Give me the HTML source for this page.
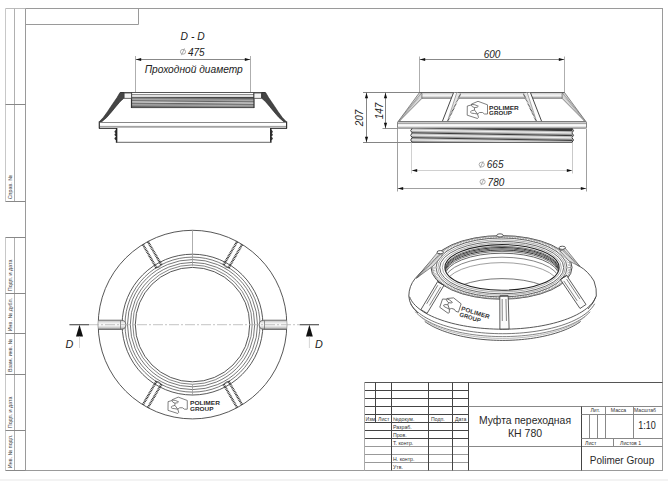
<!DOCTYPE html>
<html><head><meta charset="utf-8"><style>
html,body{margin:0;padding:0;background:#fff;}
svg{display:block;font-family:"Liberation Sans",sans-serif;}
</style></head><body>
<svg width="668" height="481" viewBox="0 0 668 481">
<rect x="0" y="0" width="668" height="481" fill="#fff"/>
<rect x="25.5" y="8.5" width="637" height="462" fill="none" stroke="#9a9a9a" stroke-width="1"/>
<polyline points="25.5,24.5 138.5,24.5 138.5,8.5" fill="none" stroke="#9a9a9a" stroke-width="1"/>
<line x1="5.5" y1="8.5" x2="25.5" y2="8.5" stroke="#bbb" stroke-width="1" />
<line x1="5.5" y1="8.5" x2="5.5" y2="201.5" stroke="#c8c8c8" stroke-width="1" />
<line x1="14.5" y1="8.5" x2="14.5" y2="201.5" stroke="#b0b0b0" stroke-width="1" />
<line x1="5.5" y1="237.5" x2="5.5" y2="470.5" stroke="#c8c8c8" stroke-width="1" />
<line x1="14.5" y1="237.5" x2="14.5" y2="470.5" stroke="#b0b0b0" stroke-width="1" />
<line x1="5.5" y1="104.5" x2="25.5" y2="104.5" stroke="#888" stroke-width="1" />
<line x1="5.5" y1="201.5" x2="25.5" y2="201.5" stroke="#888" stroke-width="1" />
<line x1="5.5" y1="237.5" x2="25.5" y2="237.5" stroke="#888" stroke-width="1" />
<line x1="5.5" y1="293.5" x2="25.5" y2="293.5" stroke="#888" stroke-width="1" />
<line x1="5.5" y1="333.5" x2="25.5" y2="333.5" stroke="#888" stroke-width="1" />
<line x1="5.5" y1="374.5" x2="25.5" y2="374.5" stroke="#888" stroke-width="1" />
<line x1="5.5" y1="430.5" x2="25.5" y2="430.5" stroke="#888" stroke-width="1" />
<line x1="5.5" y1="470.5" x2="25.5" y2="470.5" stroke="#888" stroke-width="1" />
<text x="0" y="0" font-size="5.4" text-anchor="start" fill="#444" transform="translate(12.1,199.3) rotate(-90)">Справ. №</text>
<text x="0" y="0" font-size="5.4" text-anchor="start" fill="#444" transform="translate(12.1,291.2) rotate(-90)">Подп. и дата</text>
<text x="0" y="0" font-size="5.4" text-anchor="start" fill="#444" transform="translate(12.1,331.3) rotate(-90)">Инв. № дубл.</text>
<text x="0" y="0" font-size="5.4" text-anchor="start" fill="#444" transform="translate(12.1,372) rotate(-90)">Взам. инв. №</text>
<text x="0" y="0" font-size="5.4" text-anchor="start" fill="#444" transform="translate(12.1,428.2) rotate(-90)">Подп. и дата</text>
<text x="0" y="0" font-size="5.4" text-anchor="start" fill="#444" transform="translate(12.1,468.2) rotate(-90)">Инв. № подл.</text>
<line x1="364.5" y1="382.5" x2="662.5" y2="382.5" stroke="#555" stroke-width="1" />
<line x1="364.5" y1="390.5" x2="468.5" y2="390.5" stroke="#444" stroke-width="1" />
<line x1="364.5" y1="398.5" x2="468.5" y2="398.5" stroke="#444" stroke-width="1" />
<line x1="364.5" y1="406.5" x2="468.5" y2="406.5" stroke="#444" stroke-width="1" />
<line x1="364.5" y1="414.5" x2="468.5" y2="414.5" stroke="#444" stroke-width="1" />
<line x1="364.5" y1="422.5" x2="468.5" y2="422.5" stroke="#444" stroke-width="1" />
<line x1="364.5" y1="430.5" x2="468.5" y2="430.5" stroke="#444" stroke-width="1" />
<line x1="364.5" y1="438.5" x2="468.5" y2="438.5" stroke="#444" stroke-width="1" />
<line x1="364.5" y1="446.5" x2="468.5" y2="446.5" stroke="#999" stroke-width="1" />
<line x1="364.5" y1="454.5" x2="468.5" y2="454.5" stroke="#999" stroke-width="1" />
<line x1="364.5" y1="462.5" x2="468.5" y2="462.5" stroke="#999" stroke-width="1" />
<line x1="364.5" y1="470.5" x2="468.5" y2="470.5" stroke="#999" stroke-width="1" />
<line x1="364.5" y1="382.5" x2="364.5" y2="470.5" stroke="#aaa" stroke-width="1" />
<line x1="375.5" y1="382.5" x2="375.5" y2="422.5" stroke="#444" stroke-width="1" />
<line x1="391.5" y1="382.5" x2="391.5" y2="470.5" stroke="#444" stroke-width="1" />
<line x1="428.5" y1="382.5" x2="428.5" y2="470.5" stroke="#444" stroke-width="1" />
<line x1="452.5" y1="382.5" x2="452.5" y2="470.5" stroke="#444" stroke-width="1" />
<line x1="468.5" y1="382.5" x2="468.5" y2="470.5" stroke="#444" stroke-width="1" />
<line x1="468.5" y1="406.5" x2="662.5" y2="406.5" stroke="#888" stroke-width="1" />
<line x1="468.5" y1="446.5" x2="662.5" y2="446.5" stroke="#888" stroke-width="1" />
<line x1="581.5" y1="406.5" x2="581.5" y2="470.5" stroke="#444" stroke-width="1" />
<line x1="581.5" y1="414.5" x2="662.5" y2="414.5" stroke="#888" stroke-width="1" />
<line x1="581.5" y1="438.5" x2="662.5" y2="438.5" stroke="#888" stroke-width="1" />
<line x1="605.5" y1="406.5" x2="605.5" y2="438.5" stroke="#888" stroke-width="1" />
<line x1="633.5" y1="406.5" x2="633.5" y2="438.5" stroke="#888" stroke-width="1" />
<line x1="589.5" y1="414.5" x2="589.5" y2="438.5" stroke="#888" stroke-width="1" />
<line x1="597.5" y1="414.5" x2="597.5" y2="438.5" stroke="#888" stroke-width="1" />
<line x1="613.5" y1="438.5" x2="613.5" y2="446.5" stroke="#888" stroke-width="1" />
<text x="365.5" y="420.5" font-size="5.2" text-anchor="start"  font-weight="normal" fill="#333" >Изм.</text>
<text x="378" y="420.5" font-size="5.2" text-anchor="start"  font-weight="normal" fill="#333" >Лист</text>
<text x="393" y="420.5" font-size="5.2" text-anchor="start"  font-weight="normal" fill="#333" >№докум.</text>
<text x="431" y="420.5" font-size="5.2" text-anchor="start"  font-weight="normal" fill="#333" >Подп.</text>
<text x="455" y="420.5" font-size="5.2" text-anchor="start"  font-weight="normal" fill="#333" >Дата</text>
<text x="393" y="428.5" font-size="5.2" text-anchor="start"  font-weight="normal" fill="#333" >Разраб.</text>
<text x="393" y="436.5" font-size="5.2" text-anchor="start"  font-weight="normal" fill="#333" >Пров.</text>
<text x="393" y="444.5" font-size="5.2" text-anchor="start"  font-weight="normal" fill="#333" >Т. контр.</text>
<text x="393" y="460.5" font-size="5.2" text-anchor="start"  font-weight="normal" fill="#333" >Н. контр.</text>
<text x="393" y="468.5" font-size="5.2" text-anchor="start"  font-weight="normal" fill="#333" >Утв.</text>
<text x="595.2" y="412.3" font-size="5.2" text-anchor="middle"  font-weight="normal" fill="#333" >Лит.</text>
<text x="618.5" y="412.3" font-size="5.2" text-anchor="middle"  font-weight="normal" fill="#333" >Масса</text>
<text x="634" y="412.3" font-size="5.2" text-anchor="start"  font-weight="normal" fill="#333" textLength="22" lengthAdjust="spacingAndGlyphs">Масштаб</text>
<text x="585" y="444.5" font-size="5.2" text-anchor="start"  font-weight="normal" fill="#333" >Лист</text>
<text x="620" y="444.5" font-size="5.2" text-anchor="start"  font-weight="normal" fill="#333" >Листов 1</text>
<text x="638.2" y="428.7" font-size="10.8" text-anchor="start"  font-weight="normal" fill="#222" textLength="17.6" lengthAdjust="spacingAndGlyphs">1:10</text>
<text x="525" y="423.5" font-size="10.4" text-anchor="middle"  font-weight="normal" fill="#2a2a2a" >Муфта переходная</text>
<text x="525" y="437" font-size="10.5" text-anchor="middle"  font-weight="normal" fill="#2a2a2a" >КН 780</text>
<text x="622" y="464" font-size="10" text-anchor="middle"  font-weight="normal" fill="#2a2a2a" >Polimer Group</text>
<rect x="0" y="479" width="668" height="2" fill="#f3f3f3"/>
<text x="180.6" y="40" font-size="10.8" text-anchor="start" font-style="italic" font-weight="normal" fill="#222" textLength="24" lengthAdjust="spacingAndGlyphs">D - D</text>
<ellipse cx="183" cy="51.8" rx="2.6" ry="2.4" fill="none" stroke="#999" stroke-width="0.8"/>
<line x1="184.5" y1="48.4" x2="181.4" y2="55.199999999999996" stroke="#999" stroke-width="0.8"/>
<text x="188" y="56" font-size="10" text-anchor="start" font-style="italic" font-weight="normal" fill="#222" >475</text>
<line x1="135.5" y1="59.5" x2="250.5" y2="59.5" stroke="#888" stroke-width="1" />
<polygon points="135.8,59.5 141.20000000000002,57.9 141.20000000000002,61.1" fill="#111"/>
<polygon points="250.2,59.5 244.79999999999998,61.1 244.79999999999998,57.9" fill="#111"/>
<line x1="135.5" y1="56" x2="135.5" y2="93" stroke="#999" stroke-width="0.8" />
<line x1="250.5" y1="56" x2="250.5" y2="93" stroke="#999" stroke-width="0.8" />
<text x="193.7" y="73.4" font-size="10.2" text-anchor="middle" font-style="italic" font-weight="normal" fill="#222" >Проходной диаметр</text>
<defs><linearGradient id="thr" x1="0" y1="0" x2="0" y2="1"><stop offset="0" stop-color="#fff"/><stop offset="0.08" stop-color="#555"/><stop offset="0.3" stop-color="#8a8a8a"/><stop offset="0.42" stop-color="#444"/><stop offset="0.55" stop-color="#aaa"/><stop offset="0.65" stop-color="#555"/><stop offset="0.85" stop-color="#888"/><stop offset="1" stop-color="#444"/></linearGradient><linearGradient id="band" x1="0" y1="0" x2="0" y2="1"><stop offset="0" stop-color="#999"/><stop offset="0.2" stop-color="#ddd"/><stop offset="0.5" stop-color="#f4f4f4"/><stop offset="0.8" stop-color="#ccc"/><stop offset="1" stop-color="#888"/></linearGradient></defs>
<defs><linearGradient id="thr1" gradientUnits="userSpaceOnUse" x1="131.5" y1="96.8" x2="131.4" y2="107.2"><stop offset="0" stop-color="#444"/><stop offset="0.1" stop-color="#777"/><stop offset="0.25" stop-color="#aaa"/><stop offset="0.38" stop-color="#666"/><stop offset="0.45" stop-color="#bbb"/><stop offset="0.52" stop-color="#ccc"/><stop offset="0.6" stop-color="#666"/><stop offset="0.75" stop-color="#aaa"/><stop offset="0.9" stop-color="#777"/><stop offset="1" stop-color="#444"/></linearGradient></defs>
<rect x="131.5" y="96.8" width="122.5" height="10.4" fill="url(#thr1)"/>
<line x1="120.5" y1="92.5" x2="265" y2="92.5" stroke="#555" stroke-width="1" />
<line x1="131.5" y1="94.7" x2="254" y2="94.7" stroke="#777" stroke-width="1" />
<line x1="131.5" y1="107.6" x2="254" y2="107.6" stroke="#444" stroke-width="1" />
<line x1="131.5" y1="92.5" x2="131.5" y2="108" stroke="#333" stroke-width="1.2" />
<line x1="254" y1="92.5" x2="254" y2="108" stroke="#333" stroke-width="1.2" />
<rect x="124" y="93" width="7.5" height="5.3" fill="#f2f2f2" stroke="#444" stroke-width="0.8"/>
<rect x="254" y="93" width="7.5" height="5.3" fill="#f2f2f2" stroke="#444" stroke-width="0.8"/>
<polygon points="120,92.5 117.1,97.5 114.2,101.7 110.8,106.7 107.5,111.7 103.3,117.5 99.3,121.7 101.25,122.2 106.7,117.5 111.7,111.7 115.8,106.7 120,101.7 123.8,98.3 123.8,92.5" fill="#454545" stroke="#222" stroke-width="0.6" stroke-linejoin="round"/>
<polygon points="265.60,92.5 268.50,97.5 271.40,101.7 274.80,106.7 278.10,111.7 282.30,117.5 286.30,121.7 284.35,122.2 278.90,117.5 273.90,111.7 269.80,106.7 265.60,101.7 261.80,98.3 261.80,92.5" fill="#454545" stroke="#222" stroke-width="0.6" stroke-linejoin="round"/>
<line x1="99.3" y1="121.5" x2="99.3" y2="128.5" stroke="#333" stroke-width="1.2" />
<line x1="286.6" y1="121.5" x2="286.6" y2="128.5" stroke="#333" stroke-width="1.2" />
<line x1="100" y1="122.5" x2="286" y2="122.5" stroke="#888" stroke-width="1" />
<line x1="100" y1="126.4" x2="286" y2="126.4" stroke="#999" stroke-width="1" />
<line x1="99" y1="128.3" x2="116.8" y2="128.3" stroke="#333" stroke-width="1.2" />
<line x1="270.5" y1="128.3" x2="287" y2="128.3" stroke="#333" stroke-width="1.2" />
<line x1="116.5" y1="127.5" x2="270.8" y2="127.5" stroke="#aaa" stroke-width="0.8" />
<line x1="116.6" y1="128" x2="116.6" y2="142.8" stroke="#222" stroke-width="1.5" />
<line x1="270.8" y1="128" x2="270.8" y2="142.8" stroke="#222" stroke-width="1.5" />
<line x1="116.5" y1="142.3" x2="270.8" y2="142.3" stroke="#666" stroke-width="1" />
<path d="M116.3,130.39999999999998 A1.4,1.3 0 0 0 116.3,133.0" fill="#333" stroke="#222" stroke-width="0.7"/>
<path d="M271,130.39999999999998 A1.4,1.3 0 0 1 271,133.0" fill="#333" stroke="#222" stroke-width="0.7"/>
<path d="M116.3,133.39999999999998 A1.4,1.3 0 0 0 116.3,136.0" fill="#333" stroke="#222" stroke-width="0.7"/>
<path d="M271,133.39999999999998 A1.4,1.3 0 0 1 271,136.0" fill="#333" stroke="#222" stroke-width="0.7"/>
<path d="M116.3,137.2 A1.4,1.3 0 0 0 116.3,139.8" fill="#333" stroke="#222" stroke-width="0.7"/>
<path d="M271,137.2 A1.4,1.3 0 0 1 271,139.8" fill="#333" stroke="#222" stroke-width="0.7"/>
<line x1="419.5" y1="59.5" x2="564.5" y2="59.5" stroke="#888" stroke-width="1" />
<polygon points="419.8,59.5 425.2,57.9 425.2,61.1" fill="#111"/>
<polygon points="564.2,59.5 558.8000000000001,61.1 558.8000000000001,57.9" fill="#111"/>
<line x1="419.5" y1="56.5" x2="419.5" y2="92.5" stroke="#999" stroke-width="0.8" />
<line x1="564.5" y1="56.5" x2="564.5" y2="92.5" stroke="#999" stroke-width="0.8" />
<text x="492" y="57.7" font-size="10" text-anchor="middle" font-style="italic" font-weight="normal" fill="#222" >600</text>
<line x1="363" y1="92.5" x2="420" y2="92.5" stroke="#777" stroke-width="0.9" />
<line x1="382.5" y1="128.5" x2="398" y2="128.5" stroke="#777" stroke-width="0.8" />
<line x1="363" y1="142.5" x2="412" y2="142.5" stroke="#777" stroke-width="0.9" />
<line x1="366.5" y1="92.5" x2="366.5" y2="142.5" stroke="#666" stroke-width="0.8" />
<polygon points="366.5,92.8 368.1,98.2 364.9,98.2" fill="#111"/>
<polygon points="366.5,142.2 364.9,136.79999999999998 368.1,136.79999999999998" fill="#111"/>
<text x="0" y="0" font-size="10" text-anchor="middle" font-style="italic" fill="#222" transform="translate(363.2,118) rotate(-90)">207</text>
<line x1="385.5" y1="92.5" x2="385.5" y2="128.5" stroke="#666" stroke-width="0.8" />
<polygon points="385.5,92.8 387.1,98.2 383.9,98.2" fill="#111"/>
<polygon points="385.5,128.2 383.9,122.79999999999998 387.1,122.79999999999998" fill="#111"/>
<text x="0" y="0" font-size="10" text-anchor="middle" font-style="italic" fill="#222" transform="translate(382.6,111) rotate(-90)">147</text>
<rect x="420" y="92.5" width="144" height="5.8" fill="url(#band)"/>
<line x1="419.5" y1="92.5" x2="564.5" y2="92.5" stroke="#555" stroke-width="0.9" />
<line x1="421" y1="98.3" x2="563" y2="98.3" stroke="#777" stroke-width="0.8" />
<polygon points="419.5,92.5 422,93.5 421.8,98.5 399.2,121.3 398.3,121.3" fill="#d8d8d8" stroke="#444" stroke-width="0.6"/>
<line x1="420.5" y1="94.5" x2="399.5" y2="120.5" stroke="#666" stroke-width="1.2" stroke-dasharray="0.6,0.7"/>
<polygon points="564.5,92.5 562,93.5 562.2,98.5 584.8,121.3 585.7,121.3" fill="#d8d8d8" stroke="#444" stroke-width="0.6"/>
<line x1="563.5" y1="94.5" x2="584.5" y2="120.5" stroke="#666" stroke-width="1.2" stroke-dasharray="0.6,0.7"/>
<polygon points="453.6,92.5 460.5,93.8 447.7,121.5 442.3,121.5" fill="#fcfcfc"/>
<polygon points="456.8,92.5 460.5,93.8 447.7,121.5 447.4,121.5" fill="#e6e6e6"/>
<line x1="453.6" y1="92.5" x2="442.3" y2="121.5" stroke="#333" stroke-width="0.9"/>
<line x1="456.8" y1="92.5" x2="447.4" y2="121.5" stroke="#888" stroke-width="0.7"/>
<line x1="460.5" y1="93.8" x2="447.7" y2="121.5" stroke="#333" stroke-width="1.3" stroke-dasharray="0.7,0.7"/>
<polygon points="530.4,92.5 523.5,93.8 536.3,121.5 541.7,121.5" fill="#fcfcfc"/>
<polygon points="527.2,92.5 523.5,93.8 536.3,121.5 536.6,121.5" fill="#e6e6e6"/>
<line x1="530.4" y1="92.5" x2="541.7" y2="121.5" stroke="#333" stroke-width="0.9"/>
<line x1="527.2" y1="92.5" x2="536.6" y2="121.5" stroke="#888" stroke-width="0.7"/>
<line x1="523.5" y1="93.8" x2="536.3" y2="121.5" stroke="#333" stroke-width="1.3" stroke-dasharray="0.7,0.7"/>
<defs><linearGradient id="fl" x1="0" y1="0" x2="0" y2="1"><stop offset="0" stop-color="#aaa"/><stop offset="0.3" stop-color="#e8e8e8"/><stop offset="0.6" stop-color="#fafafa"/><stop offset="1" stop-color="#bbb"/></linearGradient></defs>
<rect x="397.5" y="121.5" width="189" height="6.7" rx="1" fill="url(#fl)" stroke="#666" stroke-width="0.8"/>
<line x1="398" y1="123.5" x2="586" y2="123.5" stroke="#888" stroke-width="0.7" />
<defs><linearGradient id="thr2" gradientUnits="userSpaceOnUse" x1="412" y1="128.0" x2="411.75" y2="142.6"><stop offset="0.0000" stop-color="#3a3a3a"/><stop offset="0.0267" stop-color="#777"/><stop offset="0.0667" stop-color="#bbb"/><stop offset="0.1500" stop-color="#eee"/><stop offset="0.2333" stop-color="#b0b0b0"/><stop offset="0.2933" stop-color="#777"/><stop offset="0.3330" stop-color="#3a3a3a"/><stop offset="0.3333" stop-color="#3a3a3a"/><stop offset="0.3600" stop-color="#777"/><stop offset="0.4000" stop-color="#bbb"/><stop offset="0.4833" stop-color="#eee"/><stop offset="0.5667" stop-color="#b0b0b0"/><stop offset="0.6267" stop-color="#777"/><stop offset="0.6663" stop-color="#3a3a3a"/><stop offset="0.6667" stop-color="#3a3a3a"/><stop offset="0.6933" stop-color="#777"/><stop offset="0.7333" stop-color="#bbb"/><stop offset="0.8167" stop-color="#eee"/><stop offset="0.9000" stop-color="#b0b0b0"/><stop offset="0.9600" stop-color="#777"/><stop offset="0.9997" stop-color="#3a3a3a"/></linearGradient></defs>
<rect x="412" y="128.3" width="160.5" height="14" fill="url(#thr2)"/>
<line x1="412" y1="142.4" x2="572.5" y2="142.4" stroke="#444" stroke-width="0.9" />
<path d="M572,128.4 Q575,130.6 572,132.79999999999998" fill="none" stroke="#333" stroke-width="1"/>
<path d="M412,128.4 Q409.5,130.6 412,132.79999999999998" fill="none" stroke="#333" stroke-width="1"/>
<path d="M572,133.10000000000002 Q575,135.3 572,137.5" fill="none" stroke="#333" stroke-width="1"/>
<path d="M412,133.10000000000002 Q409.5,135.3 412,137.5" fill="none" stroke="#333" stroke-width="1"/>
<path d="M572,137.8 Q575,140.0 572,142.2" fill="none" stroke="#333" stroke-width="1"/>
<path d="M412,137.8 Q409.5,140.0 412,142.2" fill="none" stroke="#333" stroke-width="1"/>
<line x1="411.5" y1="142.5" x2="411.5" y2="173.5" stroke="#c4c4c4" stroke-width="0.8" />
<line x1="572.5" y1="142.5" x2="572.5" y2="173.5" stroke="#bbb" stroke-width="0.8" />
<line x1="397.5" y1="128.5" x2="397.5" y2="191.5" stroke="#888" stroke-width="0.8" />
<line x1="586.5" y1="128.5" x2="586.5" y2="191.5" stroke="#888" stroke-width="0.8" />
<line x1="411.5" y1="170.5" x2="572.5" y2="170.5" stroke="#c4c4c4" stroke-width="0.8" />
<polygon points="411.8,170.5 417.2,168.9 417.2,172.1" fill="#111"/>
<polygon points="572.2,170.5 566.8000000000001,172.1 566.8000000000001,168.9" fill="#111"/>
<line x1="397.5" y1="188.5" x2="586.5" y2="188.5" stroke="#888" stroke-width="0.8" />
<polygon points="397.8,188.5 403.2,186.9 403.2,190.1" fill="#111"/>
<polygon points="586.2,188.5 580.8000000000001,190.1 580.8000000000001,186.9" fill="#111"/>
<ellipse cx="481.7" cy="164.6" rx="2.6" ry="2.4" fill="none" stroke="#999" stroke-width="0.8"/>
<line x1="483.2" y1="161.2" x2="480.09999999999997" y2="168.0" stroke="#999" stroke-width="0.8"/>
<text x="486.8" y="168.3" font-size="10" text-anchor="start" font-style="italic" font-weight="normal" fill="#222" >665</text>
<ellipse cx="482.6" cy="181.8" rx="2.6" ry="2.4" fill="none" stroke="#999" stroke-width="0.8"/>
<line x1="484.1" y1="178.4" x2="481.0" y2="185.20000000000002" stroke="#999" stroke-width="0.8"/>
<text x="487.6" y="185.6" font-size="10" text-anchor="start" font-style="italic" font-weight="normal" fill="#222" >780</text>
<g transform="translate(463,98) rotate(0) scale(1.0)" fill="none" stroke="#555" stroke-width="0.75" stroke-linejoin="round"><path d="M4.3,8 L4.2,17.2 L14.5,20.5 L15.5,19.3 L14.5,16 L16.5,14.5 L19.5,14.5 L21.5,16 L24.5,16 L24.5,6.8 L15,3.3 L8.7,6 L8.2,7 Z"/><path d="M8.3,6.3 Q12,6.3 15.3,8.2 Q15,9.6 11.5,9.6 Q9,9.2 8.3,7 M11.5,9.6 L11.5,12 Q8,12.5 7.3,14 Q8,15.6 11.5,15.5 L14.5,16 M11.5,12 L14.5,16"/></g>
<g transform="translate(489.1,110.2) rotate(0)" font-weight="bold" fill="#2a2a2a" font-size="6.2"><text x="0" y="0" textLength="29.6" lengthAdjust="spacingAndGlyphs">POLIMER</text><text x="0" y="4.6" textLength="22.8" lengthAdjust="spacingAndGlyphs">GROUP</text></g>
<circle cx="192.5" cy="324.6" r="94.3" fill="none" stroke="#444" stroke-width="0.9"/>
<circle cx="192.5" cy="324.6" r="70.4" fill="none" stroke="#444" stroke-width="0.9"/>
<circle cx="192.5" cy="324.6" r="67.5" fill="none" stroke="#555" stroke-width="0.8"/>
<circle cx="192.5" cy="324.6" r="65" fill="none" stroke="#555" stroke-width="0.8"/>
<circle cx="192.5" cy="324.6" r="62.2" fill="none" stroke="#555" stroke-width="0.8"/>
<circle cx="192.5" cy="324.6" r="59.7" fill="none" stroke="#666" stroke-width="0.8"/>
<circle cx="192.5" cy="324.6" r="57.2" fill="none" stroke="#444" stroke-width="0.9"/>
<line x1="192.5" y1="230.5" x2="192.5" y2="266" stroke="#999" stroke-width="0.8" />
<line x1="192.5" y1="384.5" x2="192.5" y2="395.5" stroke="#999" stroke-width="0.8" />
<line x1="69.4" y1="324.7" x2="89" y2="324.7" stroke="#555" stroke-width="1.2" />
<polygon points="79.5,324.8 76,336.5 83,336.5" fill="#111"/>
<line x1="79.5" y1="336.5" x2="79.5" y2="348" stroke="#ccc" stroke-width="0.8" />
<text x="65.6" y="347.8" font-size="10.8" text-anchor="start" font-style="italic" font-weight="normal" fill="#222" >D</text>
<line x1="299.7" y1="324.7" x2="319" y2="324.7" stroke="#555" stroke-width="1.2" />
<polygon points="309.4,324.8 306,336.5 312.8,336.5" fill="#111"/>
<line x1="309.4" y1="336.5" x2="309.4" y2="348" stroke="#ccc" stroke-width="0.8" />
<text x="314.9" y="347.8" font-size="10.8" text-anchor="start" font-style="italic" font-weight="normal" fill="#222" >D</text>
<defs><linearGradient id="hr" x1="0" y1="0" x2="0" y2="1"><stop offset="0" stop-color="#bbb"/><stop offset="0.3" stop-color="#eee"/><stop offset="0.55" stop-color="#fafafa"/><stop offset="0.8" stop-color="#ccc"/><stop offset="1" stop-color="#888"/></linearGradient></defs>
<path d="M98.3,320.2 L121,320.2 Q125.8,320.2 125.8,324.8 Q125.8,329.4 121,329.4 L98.3,329.4" fill="url(#hr)" stroke="#555" stroke-width="0.8"/>
<line x1="120.5" y1="320.4" x2="120.5" y2="329.2" stroke="#666" stroke-width="0.7" />
<path d="M286.7,320.2 L264,320.2 Q259.2,320.2 259.2,324.8 Q259.2,329.4 264,329.4 L286.7,329.4" fill="url(#hr)" stroke="#555" stroke-width="0.8"/>
<line x1="264.5" y1="320.4" x2="264.5" y2="329.2" stroke="#666" stroke-width="0.7" />
<line x1="89" y1="324.7" x2="300" y2="324.7" stroke="#aaa" stroke-width="0.7" stroke-dasharray="10,2,2,2"/>
<line x1="156.27" y1="267.65" x2="143.01" y2="244.68" stroke="#2a2a2a" stroke-width="2.3" stroke-dasharray="0.9,0.7"/>
<line x1="161.29" y1="264.75" x2="148.03" y2="241.78" stroke="#2a2a2a" stroke-width="2.3" stroke-dasharray="0.9,0.7"/>
<path d="M162.39,264.04 Q159.75,267.88 155.11,268.24" fill="none" stroke="#444" stroke-width="0.8"/>
<line x1="223.71" y1="264.75" x2="236.97" y2="241.78" stroke="#2a2a2a" stroke-width="2.3" stroke-dasharray="0.9,0.7"/>
<line x1="228.73" y1="267.65" x2="241.99" y2="244.68" stroke="#2a2a2a" stroke-width="2.3" stroke-dasharray="0.9,0.7"/>
<path d="M229.89,268.24 Q225.25,267.88 222.61,264.04" fill="none" stroke="#444" stroke-width="0.8"/>
<line x1="228.73" y1="381.55" x2="241.99" y2="404.52" stroke="#2a2a2a" stroke-width="2.3" stroke-dasharray="0.9,0.7"/>
<line x1="223.71" y1="384.45" x2="236.97" y2="407.42" stroke="#2a2a2a" stroke-width="2.3" stroke-dasharray="0.9,0.7"/>
<path d="M222.61,385.16 Q225.25,381.32 229.89,380.96" fill="none" stroke="#444" stroke-width="0.8"/>
<line x1="161.29" y1="384.45" x2="148.03" y2="407.42" stroke="#2a2a2a" stroke-width="2.3" stroke-dasharray="0.9,0.7"/>
<line x1="156.27" y1="381.55" x2="143.01" y2="404.52" stroke="#2a2a2a" stroke-width="2.3" stroke-dasharray="0.9,0.7"/>
<path d="M155.11,380.96 Q159.75,381.32 162.39,385.16" fill="none" stroke="#444" stroke-width="0.8"/>
<g transform="translate(164,394) rotate(0) scale(0.95)" fill="none" stroke="#555" stroke-width="0.79" stroke-linejoin="round"><path d="M4.3,8 L4.2,17.2 L14.5,20.5 L15.5,19.3 L14.5,16 L16.5,14.5 L19.5,14.5 L21.5,16 L24.5,16 L24.5,6.8 L15,3.3 L8.7,6 L8.2,7 Z"/><path d="M8.3,6.3 Q12,6.3 15.3,8.2 Q15,9.6 11.5,9.6 Q9,9.2 8.3,7 M11.5,9.6 L11.5,12 Q8,12.5 7.3,14 Q8,15.6 11.5,15.5 L14.5,16 M11.5,12 L14.5,16"/></g>
<g transform="translate(190,405) rotate(0)" font-weight="bold" fill="#2a2a2a" font-size="6"><text x="0" y="0" textLength="30" lengthAdjust="spacingAndGlyphs">POLIMER</text><text x="0" y="6" textLength="23.5" lengthAdjust="spacingAndGlyphs">GROUP</text></g>
<path d="M435.25,256.52 L409.2,290 L408.70,295.90 L408.83,297.88 L409.21,299.85 L409.86,301.81 L410.75,303.76 L411.90,305.68 L413.30,307.58 L414.94,309.45 L416.83,311.27 L418.95,313.06 L421.29,314.80 L423.86,316.49 L426.65,318.12 L429.65,319.69 L432.84,321.19 L436.23,322.63 L439.80,323.99 L443.54,325.28 L447.45,326.48 L451.50,327.60 L455.70,328.64 L460.02,329.58 L464.47,330.43 L469.01,331.19 L473.65,331.85 L478.37,332.41 L483.16,332.87 L488.00,333.23 L492.87,333.49 L497.78,333.65 L502.70,333.70 L507.62,333.65 L512.53,333.49 L517.40,333.23 L522.24,332.87 L527.03,332.41 L531.75,331.85 L536.39,331.19 L540.93,330.43 L545.38,329.58 L549.70,328.64 L553.90,327.60 L557.95,326.48 L561.86,325.28 L565.60,323.99 L569.17,322.63 L572.56,321.19 L575.75,319.69 L578.75,318.12 L581.54,316.49 L584.11,314.80 L586.45,313.06 L588.57,311.27 L590.46,309.45 L592.10,307.58 L593.50,305.68 L594.65,303.76 L595.54,301.81 L596.19,299.85 L596.57,297.88 L596.70,295.90 L567.75,256.52 L567.75,256.52 L566.71,255.32 L565.57,254.13 L564.32,252.96 L562.96,251.82 L561.50,250.71 L559.95,249.62 L558.29,248.56 L556.55,247.53 L554.71,246.54 L552.78,245.58 L550.77,244.65 L548.67,243.77 L546.50,242.92 L544.25,242.12 L541.94,241.35 L539.55,240.63 L537.10,239.95 L534.60,239.32 L532.04,238.74 L529.42,238.20 L526.76,237.71 L524.06,237.27 L521.33,236.88 L518.56,236.54 L515.76,236.26 L512.93,236.02 L510.09,235.84 L507.24,235.71 L504.37,235.63 L501.50,235.60 L498.63,235.63 L495.76,235.71 L492.91,235.84 L490.07,236.02 L487.24,236.26 L484.44,236.54 L481.67,236.88 L478.94,237.27 L476.24,237.71 L473.58,238.20 L470.96,238.74 L468.40,239.32 L465.90,239.95 L463.45,240.63 L461.06,241.35 L458.75,242.12 L456.50,242.92 L454.33,243.77 L452.23,244.65 L450.22,245.58 L448.29,246.54 L446.45,247.53 L444.71,248.56 L443.05,249.62 L441.50,250.71 L440.04,251.82 L438.68,252.96 L437.43,254.13 L436.29,255.32 L435.25,256.52 Z" fill="#fff" stroke="none"/>
<path d="M435.25,256.52 L415,278.7 Q409,286 408.8,296 Q409.5,306 418,313" fill="none" stroke="#444" stroke-width="0.9"/>
<path d="M567.75,256.52 L579.4,266.2 Q588,271 594,281 Q597,289 596.3,296 Q594,303 588,309" fill="none" stroke="#444" stroke-width="0.9"/>
<path d="M595.79,296.75 L595.06,298.52 L594.12,300.28 L592.97,302.02 L591.61,303.73 L590.06,305.42 L588.30,307.07 L586.36,308.69 L584.22,310.27 L581.89,311.81 L579.39,313.30 L576.71,314.74 L573.86,316.13 L570.85,317.47 L567.68,318.74 L564.37,319.95 L560.92,321.10 L557.33,322.18 L553.62,323.19 L549.79,324.13 L545.86,324.99 L541.83,325.78 L537.71,326.49 L533.51,327.12 L529.24,327.67 L524.91,328.13 L520.53,328.52 L516.11,328.81 L511.66,329.03 L507.18,329.16 L502.70,329.20 L498.22,329.16 L493.74,329.03 L489.29,328.81 L484.87,328.52 L480.49,328.13 L476.16,327.67 L471.89,327.12 L467.69,326.49 L463.57,325.78 L459.54,324.99 L455.61,324.13 L451.78,323.19 L448.07,322.18 L444.48,321.10 L441.03,319.95 L437.72,318.74 L434.55,317.47 L431.54,316.13 L428.69,314.74 L426.01,313.30 L423.51,311.81 L421.18,310.27 L419.04,308.69 L417.10,307.07 L415.34,305.42 L413.79,303.73 L412.43,302.02 L411.28,300.28 L410.34,298.52 L409.61,296.75" fill="none" stroke="#444" stroke-width="0.9" />
<path d="M594.65,303.76 L593.66,305.43 L592.50,307.08 L591.14,308.70 L589.61,310.30 L587.89,311.87 L586.00,313.41 L583.94,314.91 L581.71,316.38 L579.32,317.80 L576.77,319.17 L574.07,320.50 L571.22,321.78 L568.23,323.00 L565.11,324.17 L561.86,325.28 L558.48,326.32 L554.99,327.31 L551.39,328.23 L547.70,329.09 L543.91,329.87 L540.03,330.59 L536.08,331.24 L532.06,331.81 L527.98,332.31 L523.85,332.73 L519.67,333.08 L515.46,333.35 L511.22,333.54 L506.96,333.66 L502.70,333.70 L498.44,333.66 L494.18,333.54 L489.94,333.35 L485.73,333.08 L481.55,332.73 L477.42,332.31 L473.34,331.81 L469.32,331.24 L465.37,330.59 L461.49,329.87 L457.70,329.09 L454.01,328.23 L450.41,327.31 L446.92,326.32 L443.54,325.28 L440.29,324.17 L437.17,323.00 L434.18,321.78 L431.33,320.50 L428.63,319.17 L426.08,317.80 L423.69,316.38 L421.46,314.91 L419.40,313.41 L417.51,311.87 L415.79,310.30 L414.26,308.70 L412.90,307.08 L411.74,305.43 L410.75,303.76" fill="none" stroke="#555" stroke-width="0.8" />
<path d="M590.09,311.73 L588.72,313.16 L587.21,314.58 L585.56,315.96 L583.78,317.32 L581.85,318.64 L579.80,319.94 L577.62,321.20 L575.31,322.42 L572.89,323.60 L570.35,324.74 L567.69,325.84 L564.93,326.89 L562.06,327.90 L559.10,328.86 L556.04,329.76 L552.90,330.62 L549.67,331.43 L546.36,332.18 L542.98,332.87 L539.54,333.51 L536.03,334.09 L532.47,334.61 L528.85,335.07 L525.20,335.48 L521.51,335.82 L517.78,336.10 L514.03,336.32 L510.27,336.47 L506.49,336.57 L502.70,336.60 L498.91,336.57 L495.13,336.47 L491.37,336.32 L487.62,336.10 L483.89,335.82 L480.20,335.48 L476.55,335.07 L472.93,334.61 L469.37,334.09 L465.86,333.51 L462.42,332.87 L459.04,332.18 L455.73,331.43 L452.50,330.62 L449.36,329.76 L446.30,328.86 L443.34,327.90 L440.47,326.89 L437.71,325.84 L435.05,324.74 L432.51,323.60 L430.09,322.42 L427.78,321.20 L425.60,319.94 L423.55,318.64 L421.62,317.32 L419.84,315.96 L418.19,314.58 L416.68,313.16 L415.31,311.73" fill="none" stroke="#666" stroke-width="0.8" />
<path d="M580.64,321.45 L579.02,322.58 L577.31,323.69 L575.51,324.78 L573.62,325.83 L571.64,326.86 L569.58,327.86 L567.44,328.83 L565.22,329.76 L562.92,330.67 L560.55,331.53 L558.11,332.37 L555.60,333.16 L553.03,333.92 L550.39,334.64 L547.70,335.32 L544.95,335.96 L542.15,336.56 L539.31,337.12 L536.41,337.64 L533.48,338.11 L530.51,338.55 L527.51,338.93 L524.47,339.27 L521.41,339.57 L518.33,339.82 L515.23,340.03 L512.11,340.19 L508.98,340.31 L505.84,340.38 L502.70,340.40 L499.56,340.38 L496.42,340.31 L493.29,340.19 L490.17,340.03 L487.07,339.82 L483.99,339.57 L480.93,339.27 L477.89,338.93 L474.89,338.55 L471.92,338.11 L468.99,337.64 L466.09,337.12 L463.25,336.56 L460.45,335.96 L457.70,335.32 L455.01,334.64 L452.37,333.92 L449.80,333.16 L447.29,332.37 L444.85,331.53 L442.48,330.67 L440.18,329.76 L437.96,328.83 L435.82,327.86 L433.76,326.86 L431.78,325.83 L429.89,324.78 L428.09,323.69 L426.38,322.58 L424.76,321.45" fill="none" stroke="#444" stroke-width="0.9" />
<path d="M585.17,316.52 L583.66,317.80 L582.03,319.07 L580.29,320.30 L578.44,321.51 L576.48,322.69 L574.41,323.83 L572.24,324.95 L569.97,326.02 L567.61,327.06 L565.15,328.07 L562.60,329.03 L559.97,329.95 L557.25,330.83 L554.46,331.67 L551.59,332.46 L548.66,333.21 L545.66,333.91 L542.59,334.56 L539.47,335.17 L536.30,335.72 L533.08,336.23 L529.81,336.68 L526.51,337.08 L523.17,337.43 L519.80,337.72 L516.41,337.97 L513.00,338.16 L509.58,338.29 L506.14,338.37 L502.70,338.40 L499.26,338.37 L495.82,338.29 L492.40,338.16 L488.99,337.97 L485.60,337.72 L482.23,337.43 L478.89,337.08 L475.59,336.68 L472.32,336.23 L469.10,335.72 L465.93,335.17 L462.81,334.56 L459.74,333.91 L456.74,333.21 L453.81,332.46 L450.94,331.67 L448.15,330.83 L445.43,329.95 L442.80,329.03 L440.25,328.07 L437.79,327.06 L435.43,326.02 L433.16,324.95 L430.99,323.83 L428.92,322.69 L426.96,321.51 L425.11,320.30 L423.37,319.07 L421.74,317.80 L420.23,316.52" fill="none" stroke="#999" stroke-width="0.7" />
<ellipse cx="501.5" cy="267.4" rx="70.5" ry="31.8" fill="#fff" stroke="#333" stroke-width="0.9"/>
<ellipse cx="501.5" cy="267.42" rx="68" ry="30.6" fill="none" stroke="#999" stroke-width="3.0" stroke-dasharray="0.5,1.1"/>
<ellipse cx="501.5" cy="267.42" rx="69.2" ry="31.2" fill="none" stroke="#888" stroke-width="0.6"/>
<ellipse cx="501.5" cy="267.45" rx="65.5" ry="29.5" fill="none" stroke="#444" stroke-width="0.8"/>
<ellipse cx="501.6" cy="267.5" rx="63.7" ry="27.8" fill="none" stroke="#777" stroke-width="0.6"/>
<ellipse cx="501.7" cy="267.6" rx="62" ry="26.2" fill="none" stroke="#444" stroke-width="0.8"/>
<ellipse cx="501.8" cy="267.5" rx="59.5" ry="24.5" fill="none" stroke="#777" stroke-width="0.6"/>
<ellipse cx="502" cy="267.4" rx="57.1" ry="22.8" fill="#fff" stroke="#222" stroke-width="1.1"/>
<defs><clipPath id="bore"><ellipse cx="502" cy="267.4" rx="56.6" ry="22.3"/></clipPath></defs>
<g clip-path="url(#bore)"><ellipse cx="502" cy="269.2" rx="57.1" ry="22.8" fill="none" stroke="#555" stroke-width="0.8"/><ellipse cx="502" cy="270.29999999999995" rx="57.1" ry="22.8" fill="none" stroke="#333" stroke-width="1.0"/><ellipse cx="502" cy="271.5" rx="57.1" ry="22.8" fill="none" stroke="#444" stroke-width="0.9"/><ellipse cx="502" cy="272.79999999999995" rx="57.1" ry="22.8" fill="none" stroke="#333" stroke-width="1.0"/><ellipse cx="502" cy="274.2" rx="57.1" ry="22.8" fill="none" stroke="#555" stroke-width="0.8"/><ellipse cx="502" cy="276.0" rx="57.1" ry="22.8" fill="none" stroke="#555" stroke-width="0.9"/><ellipse cx="502" cy="280.0" rx="57.1" ry="22.8" fill="none" stroke="#666" stroke-width="0.8"/><ellipse cx="502" cy="285.4" rx="57.1" ry="22.8" fill="none" stroke="#777" stroke-width="0.7"/><ellipse cx="502" cy="301.4" rx="57.1" ry="22.8" fill="none" stroke="#555" stroke-width="0.8"/></g>
<polygon points="499.80,296.06 508.20,295.94 509.10,328.93 499.90,329.07" fill="#fbfbfb" stroke="#333" stroke-width="0.8"/>
<line x1="502.16" y1="299.03" x2="502.31" y2="321.03" stroke="#777" stroke-width="0.9"/>
<line x1="505.94" y1="298.97" x2="506.45" y2="320.97" stroke="#777" stroke-width="0.9"/>
<line x1="499.80" y1="296.06" x2="508.20" y2="295.94" stroke="#333" stroke-width="0.9"/>
<polygon points="437.63,281.60 443.97,285.40 427.09,313.35 420.91,309.65" fill="#fbfbfb" stroke="#333" stroke-width="0.8"/>
<line x1="437.83" y1="285.22" x2="426.73" y2="303.81" stroke="#777" stroke-width="0.9"/>
<line x1="440.68" y1="286.93" x2="429.51" y2="305.47" stroke="#777" stroke-width="0.9"/>
<line x1="437.63" y1="281.60" x2="443.97" y2="285.40" stroke="#333" stroke-width="0.9"/>
<polygon points="560.43,279.56 566.57,275.44 585.99,304.49 580.01,308.51" fill="#fbfbfb" stroke="#333" stroke-width="0.8"/>
<line x1="563.79" y1="280.92" x2="577.19" y2="300.77" stroke="#777" stroke-width="0.9"/>
<line x1="566.56" y1="279.06" x2="579.88" y2="298.96" stroke="#777" stroke-width="0.9"/>
<line x1="560.43" y1="279.56" x2="566.57" y2="275.44" stroke="#333" stroke-width="0.9"/>
<ellipse cx="500" cy="235.4" rx="3.2" ry="1.6" fill="#fff" stroke="#333" stroke-width="0.8"/>
<ellipse cx="440.2" cy="252.2" rx="3.2" ry="1.6" fill="#fff" stroke="#333" stroke-width="0.8"/>
<ellipse cx="562.3" cy="247.8" rx="3.2" ry="1.6" fill="#fff" stroke="#333" stroke-width="0.8"/>
<polygon points="437,253 442.5,255.5 433,266 416,278.5" fill="#ddd" stroke="#444" stroke-width="0.6"/>
<line x1="439.5" y1="254.8" x2="417" y2="277.8" stroke="#555" stroke-width="1.6" stroke-dasharray="0.6,0.7"/>
<polygon points="565.5,248.5 560,251 569,261 580,266.5" fill="#ddd" stroke="#444" stroke-width="0.6"/>
<line x1="563" y1="250" x2="579" y2="266" stroke="#555" stroke-width="1.6" stroke-dasharray="0.6,0.7"/>
<g transform="translate(441,290.5) rotate(18) scale(0.95)" fill="none" stroke="#555" stroke-width="0.79" stroke-linejoin="round"><path d="M4.3,8 L4.2,17.2 L14.5,20.5 L15.5,19.3 L14.5,16 L16.5,14.5 L19.5,14.5 L21.5,16 L24.5,16 L24.5,6.8 L15,3.3 L8.7,6 L8.2,7 Z"/><path d="M8.3,6.3 Q12,6.3 15.3,8.2 Q15,9.6 11.5,9.6 Q9,9.2 8.3,7 M11.5,9.6 L11.5,12 Q8,12.5 7.3,14 Q8,15.6 11.5,15.5 L14.5,16 M11.5,12 L14.5,16"/></g>
<g transform="translate(460.8,310.3) rotate(17)" font-weight="bold" fill="#333" font-size="6"><text x="0" y="0" textLength="29.5" lengthAdjust="spacingAndGlyphs">POLIMER</text><text x="0" y="6.2" textLength="22" lengthAdjust="spacingAndGlyphs">GROUP</text></g>
</svg></body></html>
